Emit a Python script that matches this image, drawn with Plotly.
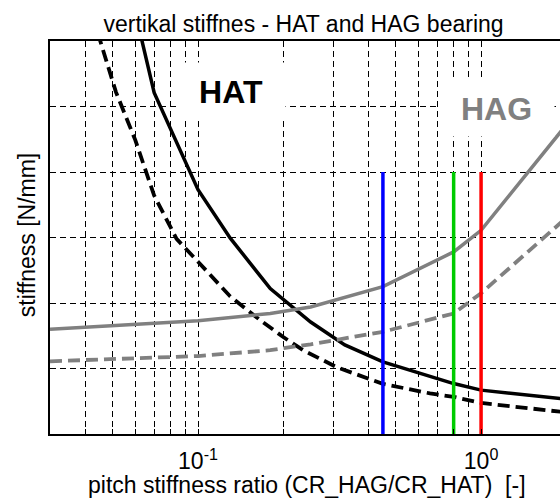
import plotly.graph_objects as go

# pitch stiffness ratio CR_HAG/CR_HAT and vertical stiffness for each bearing
hat_x = [0.05, 0.07, 0.1, 0.13, 0.18, 0.25, 0.33, 0.45, 0.8, 1.0, 2.0]
hat_y = [7.9, 5.21, 3.73, 2.99, 2.22, 1.71, 1.36, 1.10, 0.77, 0.67, 0.53]

hat2_x = [0.03, 0.045, 0.0513, 0.06, 0.07, 0.084, 0.1, 0.13, 0.1656, 0.2, 0.235, 0.309, 0.45, 0.66, 0.8, 1.0, 2.0]
hat2_y = [8.2, 6.02, 5.22, 4.49, 3.64, 2.98, 2.63, 2.10, 1.74, 1.48, 1.28, 1.02, 0.765, 0.62, 0.567, 0.474, 0.33]

hag_x = [0.03, 0.1, 0.18, 0.25, 0.45, 0.8, 1.0, 2.0]
hag_y = [1.60, 1.73, 1.84, 1.94, 2.25, 2.78, 3.11, 4.72]

hag2_x = [0.03, 0.1, 0.18, 0.25, 0.45, 0.8, 1.0, 2.0]
hag2_y = [1.11, 1.19, 1.28, 1.37, 1.56, 1.84, 2.15, 3.30]

# selected design ratios, marked up to stiffness level 4
mark_x = [0.45, 0.8, 1.0]
mark_top = 4
mark_colors = ["#0000ff", "#00cc00", "#ff0000"]

x_grid = [0.04, 0.05, 0.06, 0.07, 0.08, 0.09, 0.1,
          0.2, 0.3, 0.4, 0.5, 0.6, 0.7, 0.8, 0.9, 1.0, 2.0]
x_grid_text = ["10<sup>-1</sup>" if v == 0.1 else ("10<sup>0</sup>" if v == 1.0 else "") for v in x_grid]
y_grid = [0, 1, 2, 3, 4, 5, 6]

FONT = "Liberation Sans, Arial, sans-serif"
GRAY = "rgb(128,128,128)"
FS = 23

fig = go.Figure()
fig.add_trace(go.Scatter(x=hat_x, y=hat_y, mode="lines",
                         line=dict(color="black", width=3.5)))
fig.add_trace(go.Scatter(x=hat2_x, y=hat2_y, mode="lines",
                         line=dict(color="black", width=3.8, dash="12px,6px")))
fig.add_trace(go.Scatter(x=hag_x, y=hag_y, mode="lines",
                         line=dict(color=GRAY, width=3.5)))
fig.add_trace(go.Scatter(x=hag2_x, y=hag2_y, mode="lines",
                         line=dict(color=GRAY, width=3.8, dash="12px,6px")))
for xv, col in zip(mark_x, mark_colors):
    fig.add_trace(go.Scatter(x=[xv, xv], y=[0, mark_top], mode="lines",
                             line=dict(color=col, width=3.5)))

fig.add_annotation(text="<b>HAT</b>", x=-0.885, y=5.23, xref="x", yref="y",
                   showarrow=False, font=dict(family=FONT, size=32, color="black"),
                   bgcolor="white", width=98, height=47, borderpad=5)
fig.add_annotation(text="<b>HAG</b>", x=0.0555, y=4.97, xref="x", yref="y",
                   showarrow=False, font=dict(family=FONT, size=32, color=GRAY),
                   bgcolor="white", width=105, height=45, borderpad=5)

# axis titles
fig.add_annotation(text="pitch stiffness ratio (CR_HAG/CR_HAT)  [-]",
                   x=0.503, y=-0.131, xref="paper", yref="paper",
                   xanchor="center", yanchor="middle", showarrow=False,
                   font=dict(family=FONT, size=FS, color="black"))
fig.add_annotation(text="stiffness [N/mm]", textangle=-90,
                   x=-0.045, y=0.506, xref="paper", yref="paper",
                   xanchor="center", yanchor="middle", showarrow=False,
                   font=dict(family=FONT, size=FS, color="black"))

fig.update_layout(
    width=560, height=501,
    margin=dict(l=50, r=0, t=41, b=67),
    paper_bgcolor="white", plot_bgcolor="white",
    showlegend=False,
    font=dict(family=FONT, size=FS, color="black"),
    title=dict(text="vertikal stiffnes - HAT and HAG bearing",
               x=0.542, xanchor="center", y=0.952, yanchor="middle",
               font=dict(family=FONT, size=FS, color="black")),
)
fig.update_xaxes(
    type="log", range=[-1.5229, 0.2788],
    tickmode="array", tickvals=x_grid, ticktext=x_grid_text,
    ticks="inside", ticklen=5, tickcolor="black", ticklabelstandoff=6,
    showgrid=True, gridcolor="black", gridwidth=1, griddash="6px,4px",
    showline=True, linecolor="black", linewidth=1.5, mirror="ticks",
    zeroline=False,
    tickfont=dict(family=FONT, size=FS, color="black"),
)
fig.update_yaxes(
    range=[0, 6], tickmode="array", tickvals=y_grid, showticklabels=False,
    ticks="inside", ticklen=5, tickcolor="black",
    showgrid=True, gridcolor="black", gridwidth=1, griddash="6px,4px",
    showline=True, linecolor="black", linewidth=1.5, mirror=False,
    zeroline=False,
)

fig.write_html("out.html")
